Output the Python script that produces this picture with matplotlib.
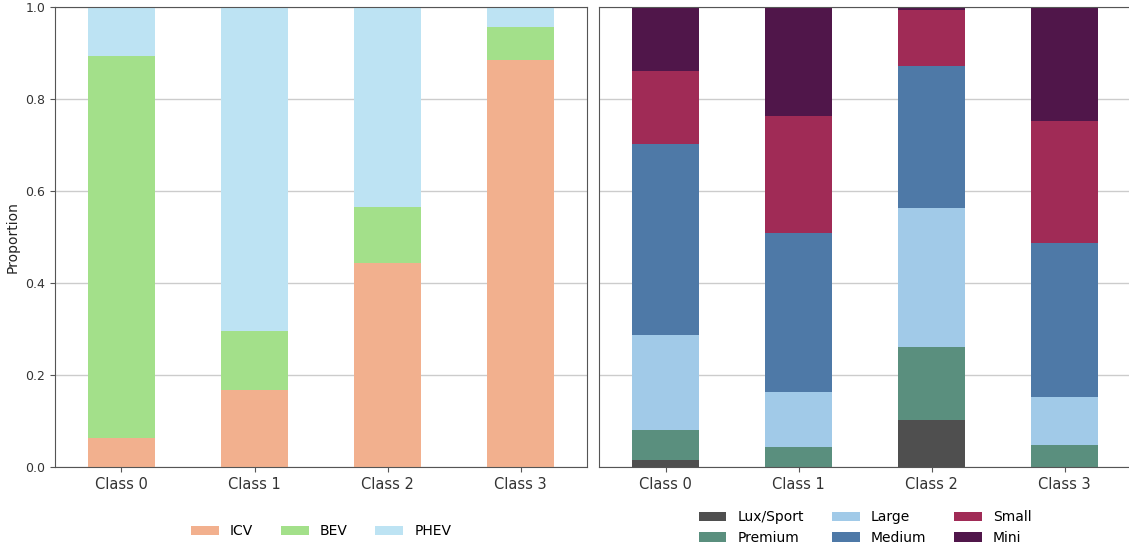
import numpy as np
import pandas as pd
import matplotlib
matplotlib.use("Agg")
from matplotlib import pyplot as plt

classes = ["Class 0", "Class 1", "Class 2", "Class 3"]

# powertrain share per class
icv = [0.064, 0.168, 0.444, 0.885]
bev = [0.829, 0.128, 0.121, 0.071]
phev = [0.107, 0.704, 0.435, 0.044]
pt_labels = ["ICV", "BEV", "PHEV"]
pt_colors = ["#f2b08e", "#a3e08a", "#bde3f3"]

# vehicle segment share per class
lux = [0.015, 0.0, 0.102, 0.0]
premium = [0.065, 0.043, 0.159, 0.047]
large = [0.207, 0.120, 0.303, 0.106]
medium = [0.415, 0.345, 0.308, 0.333]
small = [0.158, 0.255, 0.121, 0.267]
mini = [0.140, 0.237, 0.007, 0.247]
seg_labels = ["Lux/Sport", "Premium", "Large", "Medium", "Small", "Mini"]
seg_colors = ["#4f4f4f", "#5a8f7e", "#a1cae8", "#4e79a7", "#a02b56", "#50164a"]

df_pt = pd.DataFrame(dict(zip(pt_labels, [icv, bev, phev])), index=classes)
df_seg = pd.DataFrame(dict(zip(seg_labels, [lux, premium, large, medium, small, mini])),
                      index=classes)

plt.rcParams["axes.edgecolor"] = "#555555"
plt.rcParams["xtick.color"] = "#555555"
plt.rcParams["ytick.color"] = "#555555"
plt.rcParams["xtick.labelcolor"] = "#333333"
plt.rcParams["ytick.labelcolor"] = "#333333"

fig = plt.figure(figsize=(11.29, 5.46), dpi=100)
ax1 = fig.add_axes([0.0487, 0.1447, 0.4713, 0.8425])
ax2 = fig.add_axes([0.5306, 0.1447, 0.4713, 0.8425], sharey=ax1)

df_pt.plot(kind="bar", stacked=True, ax=ax1, color=pt_colors, width=0.5, rot=0, legend=False)
df_seg.plot(kind="bar", stacked=True, ax=ax2, color=seg_colors, width=0.5, rot=0, legend=False)

for ax in (ax1, ax2):
    ax.set_ylim(0, 1)
    ax.set_xlim(-0.5, 3.5)
    ax.set_yticks(np.arange(0, 1.01, 0.2))
    ax.grid(axis="y", color="#cccccc", linewidth=1)
    ax.set_axisbelow(True)
    ax.tick_params(axis="x", labelsize=10.5)
    ax.tick_params(axis="y", labelsize=9)

ax1.set_ylabel("Proportion", fontsize=10, color="#222222")
ax2.tick_params(axis="y", left=False, labelleft=False)
ax2.spines["right"].set_visible(False)

ax1.legend(loc="center", bbox_to_anchor=(0.5, -0.14), ncol=3, frameon=False, fontsize=10)
ax2.legend(loc="center", bbox_to_anchor=(0.5, -0.132), ncol=3, frameon=False, fontsize=10)

fig.savefig("out.png", dpi=100)
